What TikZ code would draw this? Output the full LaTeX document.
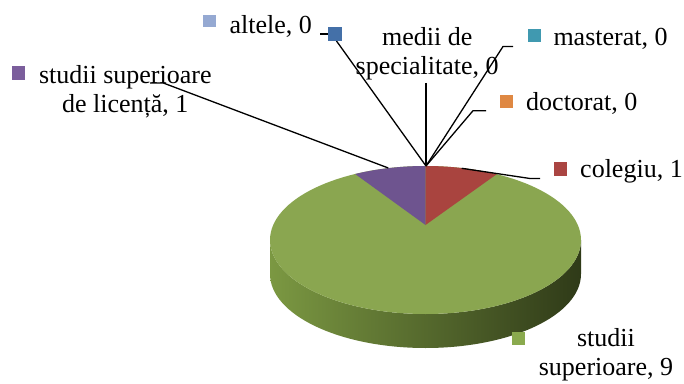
\documentclass[tikz,border=0pt]{standalone}
\usepackage{fontspec}
\setmainfont{Liberation Serif}
\usetikzlibrary{calc}
\begin{document}
\begin{tikzpicture}[x=1pt,y=1pt,
  lbl/.style={inner sep=0pt, font=\fontsize{26}{29}\selectfont, text=black},
  legkey/.style={inner sep=0pt, minimum size=13.3pt, anchor=south west},
  leader/.style={draw=black, line width=1.3pt},
  pieR/.style={x radius=155.5pt, y radius=74pt}]
\definecolor{pgreen}{HTML}{8AA650}
\definecolor{pred}{HTML}{A9443F}
\definecolor{ppurple}{HTML}{6E548F}
\definecolor{sideL}{HTML}{7B9842}
\definecolor{sideM}{HTML}{56692E}
\definecolor{sideR}{HTML}{2F3A18}
\definecolor{kLightBlue}{HTML}{95A9D2}
\definecolor{kBlue}{HTML}{4470A8}
\definecolor{kPurple}{HTML}{7B5E9C}
\definecolor{kTeal}{HTML}{4099B0}
\definecolor{kOrange}{HTML}{DF8843}
\definecolor{kRed}{HTML}{AA4542}
\definecolor{kGreen}{HTML}{8AAA4E}
\useasboundingbox (0,0) rectangle (684,383);
% pie geometry
\coordinate (C) at (425.5,143);
\coordinate (Cb) at (425.5,109);
\coordinate (A) at (425.5,158);
\coordinate (T) at ($(C)+(90:155.5pt and 74pt)$);
% side
\shade[left color=sideL, middle color=sideM, right color=sideR]
  (270,143) -- (270,109) arc[start angle=180, end angle=360, pieR]
  -- (581,143) arc[start angle=0, end angle=-180, pieR] -- cycle;
% top face
\fill[pgreen] (C) ellipse[pieR];
\fill[ppurple] (A) -- ($(C)+(116.9:155.5pt and 74pt)$) arc[start angle=116.9, end angle=90, pieR] -- cycle;
\fill[pred] (A) -- (T) arc[start angle=90, end angle=62.75, pieR] -- cycle;
% leader points
\coordinate (licA) at (150,300);
\coordinate (licB) at (163.3,300);
\coordinate (licC) at (388.3,215);
\coordinate (altA) at (320,349);
\coordinate (altB) at (328,349);
\coordinate (medA) at (336.5,342);
\coordinate (medV) at (426,300);
\coordinate (top) at (426,217);
\coordinate (masA) at (513,336.5);
\coordinate (masB) at (503,336.5);
\coordinate (docA) at (486,272.3);
\coordinate (docB) at (473,272.3);
\coordinate (colA) at (461.7,214.7);
\coordinate (colB) at (530,204.5);
\coordinate (colC) at (540,204.5);
\draw[leader] (licA) -- (licB) -- (licC);
\draw[leader] (altA) -- (altB);
\draw[leader] (medA) -- (top);
\draw[leader] (medV) -- (top);
\draw[leader] (masA) -- (masB) -- (top);
\draw[leader] (docA) -- (docB) -- (top);
\draw[leader] (colA) -- (colB) -- (colC);
% legend keys
\node[legkey, fill=kLightBlue, minimum size=12.6pt] (kalt) at (203,355.3) {};
\node[legkey, fill=kBlue] (kmed) at (328,342) {};
\node[legkey, fill=kPurple] (klic) at (11.7,303) {};
\node[legkey, fill=kTeal] (kmas) at (527.3,340.7) {};
\node[legkey, fill=kOrange] (kdoc) at (499.3,274.7) {};
\node[legkey, fill=kRed] (kcol) at (553.3,207) {};
\node[legkey, fill=kGreen] (ksup) at (511.7,37.7) {};
% labels
\node[lbl, anchor=base west] (talt) at (229.3,349.7) {altele, 0};
\node[lbl, anchor=base, align=center] (tmed) at (427.2,308) {medii de\\specialitate, 0};
\node[lbl, anchor=base west] (tmas) at (553.3,337) {masterat, 0};
\node[lbl, anchor=base west] (tdoc) at (526,272.3) {doctorat, 0};
\node[lbl, anchor=base west] (tcol) at (580,205.5) {colegiu, 1};
\node[lbl, anchor=base, align=center] (tlic) at (125.3,270.7) {studii superioare\\de licență, 1};
\node[lbl, anchor=base, align=center] (tsup) at (606,8) {studii\\superioare, 9};
\end{tikzpicture}
\end{document}
